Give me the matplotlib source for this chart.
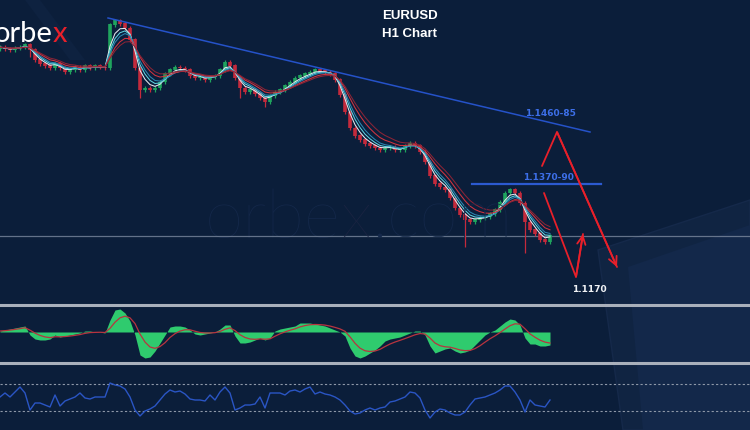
import numpy as np
import pandas as pd
import matplotlib
matplotlib.use("Agg")
import matplotlib.pyplot as plt
from matplotlib.patches import Polygon
from matplotlib.lines import Line2D

# ---------------- data ----------------
close = [1.1671, 1.1667, 1.1665, 1.1669, 1.1671, 1.1676, 1.1665, 1.1643, 1.1634, 1.1630,
         1.1625, 1.1634, 1.1625, 1.1616, 1.1621, 1.1627, 1.1621, 1.1630, 1.1625, 1.1630,
         1.1627, 1.1625, 1.1720, 1.1729, 1.1722, 1.1713, 1.1687, 1.1625, 1.1577, 1.1581,
         1.1577, 1.1581, 1.1594, 1.1612, 1.1621, 1.1627, 1.1625, 1.1621, 1.1608, 1.1603,
         1.1605, 1.1599, 1.1605, 1.1608, 1.1621, 1.1638, 1.1630, 1.1603, 1.1581, 1.1572,
         1.1577, 1.1568, 1.1559, 1.1550, 1.1564, 1.1572, 1.1577, 1.1586, 1.1594, 1.1603,
         1.1608, 1.1612, 1.1616, 1.1621, 1.1619, 1.1616, 1.1612, 1.1599, 1.1566, 1.1528,
         1.1493, 1.1476, 1.1467, 1.1458, 1.1454, 1.1449, 1.1445, 1.1449, 1.1451, 1.1445,
         1.1445, 1.1454, 1.1460, 1.1454, 1.1440, 1.1418, 1.1388, 1.1370, 1.1363, 1.1357,
         1.1339, 1.1317, 1.1302, 1.1291, 1.1286, 1.1291, 1.1295, 1.1297, 1.1304, 1.1313,
         1.1330, 1.1350, 1.1357, 1.1350, 1.1328, 1.1286, 1.1269, 1.1260, 1.1247, 1.1242,
         1.1256]
first_open = 1.1668
typical_wick = 0.0005
spike_bars = [6, 28, 48, 53, 93, 105]
spike_lows = [1.1650, 1.1560, 1.1560, 1.1540, 1.1231, 1.1218]

macd_hist = [0.5, 1, 1.5, 2, 2.5, 3, -1.5, -3.5, -4, -4,
             -3.5, -1.5, -2.5, -2, -1.5, -1, -0.5, 0.5, 0.5, 0,
             0, -0.5, 6, 11, 11.5, 9.5, 5.5, -1.5, -11.5, -13,
             -12.5, -9.5, -5.5, -1.5, 2.5, 3, 3, 2.5, 1, -1,
             -1.5, -1, -0.5, 0, 1.5, 3.5, 3.5, -2, -5.5, -5.5,
             -5, -4, -3, -4, -3, 0.5, 1.5, 2, 2.5, 3,
             4.5, 4.5, 4.5, 4, 3.5, 3, 2, 1, 0, -2,
             -8, -12, -13, -12, -10.5, -9, -7, -4.5, -3.5, -3,
             -2.5, -1.5, -0.5, 0.5, 0.5, -1.5, -7, -10.5, -9.5, -8.5,
             -8, -9.5, -10.5, -10, -9, -6.5, -4, -1.5, 0, 1,
             3, 5, 6.5, 6, 3.5, -3, -6, -6, -7, -7,
             -6.5]

rsi = [51, 57, 51, 58.5, 66, 57, 31.5, 42, 42, 39,
       36, 54, 37.5, 45, 48, 51, 57, 49.5, 48, 51,
       51, 51, 72, 69, 67.5, 63, 51, 31.5, 22.5, 30,
       33, 37.5, 46.5, 55.5, 61.5, 58.5, 60, 55.5, 48, 46.5,
       46.5, 45, 54, 46.5, 58.5, 66, 57, 31.5, 34.5, 39,
       39, 40.5, 51, 34.5, 57, 57, 57, 54, 60, 61.5,
       58.5, 63, 66, 55.5, 58.5, 55.5, 54, 51, 46.5, 39,
       30, 25.5, 27, 31.5, 34.5, 31.5, 34.5, 36, 43.5, 45,
       48, 51, 58.5, 57, 49.5, 31.5, 19.5, 28.5, 33, 31.5,
       27, 24, 24, 28.5, 39, 48, 49.5, 51, 54, 57,
       61.5, 67.5, 67.5, 58.5, 46.5, 28.5, 46.5, 39, 37.5, 36,
       46.5]
rsi_levels = [70, 30]

ma_spans = [3, 4, 5, 7, 9]
ma_colors = ["#e6e9ee", "#5fd3e0", "#2b86b0", "#d2343f", "#8a2436"]

trend_x = [21.6, 118.0]
trend_y = [1.17352, 1.14844]
level_x = [94.4, 120.2]
level_y = 1.1370
current_price = 1.1256
arrow1_x = [108.4, 111.4, 123.4]
arrow1_y = [1.14096, 1.14844, 1.11874]
arrow2_x = [108.8, 115.2, 116.6]
arrow2_y = [1.13502, 1.11654, 1.1260]
labels = [("1.1460-85", 110.0, 1.1524, "#3d6fe8"),
          ("1.1370-90", 109.6, 1.13832, "#3d6fe8"),
          ("1.1170", 117.8, 1.1139, "#f0f2f5")]

# ---------------- figure ----------------
BG = "#0b1e3a"
W, H = 750, 430
fig = plt.figure(figsize=(7.5, 4.3), dpi=100, facecolor=BG)


def fx(px):
    return px / W


def fy(py):
    return 1 - py / H


# background decorations (subtle lighter shapes)
deco_ax = fig.add_axes([0, 0, 1, 1], facecolor=BG)
deco_ax.set_xlim(0, W)
deco_ax.set_ylim(H, 0)
deco_ax.axis("off")
deco_ax.add_patch(Polygon([(598, 250), (750, 200), (750, 430), (623, 430)],
                          closed=True, facecolor="#102442", edgecolor="#15294a", lw=1))
deco_ax.add_patch(Polygon([(628, 267), (750, 225), (750, 430), (643, 430)],
                          closed=True, facecolor="#13284a", edgecolor="none"))
deco_ax.add_patch(Polygon([(25, 0), (40, 0), (85, 60), (70, 60)],
                          closed=True, facecolor="#0e2240", edgecolor="none"))

# watermark
wm = deco_ax.text(205, 238, "orbe", fontsize=50, color="#14284a", family="Lato",
                  fontweight="light", va="baseline", ha="left")
fig.canvas.draw()
bb = wm.get_window_extent()
wm2 = fig.text(bb.x1 / W, fy(238), "x", fontsize=50, color="#1b2442", family="Lato",
               fontweight="light", va="baseline", ha="left")
fig.canvas.draw()
bb2 = wm2.get_window_extent()
fig.text(bb2.x1 / W, fy(238), ".com", fontsize=50, color="#14284a", family="Lato",
         fontweight="light", va="baseline", ha="left")

# ---------------- main price panel ----------------
top_px, bot_px = 0, 303
ref_px, ref_price, per_px = 184, 1.1370, 0.00022
ymax = ref_price + (ref_px - top_px) * per_px
ymin = ref_price - (bot_px - ref_px) * per_px
ax = fig.add_axes([0, fy(bot_px), 1, (bot_px - top_px) / H])
ax.patch.set_alpha(0)
ax.set_xlim(0, W / 5)
ax.set_ylim(ymin, ymax)
ax.axis("off")

c = pd.Series(close)
idx = np.arange(len(close))
opens = np.r_[first_open, c.values[:-1]]
body_lo = np.minimum(opens, c.values)
body_hi = np.maximum(opens, c.values)
highs = body_hi + typical_wick
lows = body_lo - typical_wick
for b, lo in zip(spike_bars, spike_lows):
    lows[b] = min(lows[b], lo)
up = c.values >= opens
cols = np.where(up, "#1fa45e", "#c42a3c")
ax.vlines(idx, lows, highs, colors=cols, lw=0.9, zorder=2)
ax.vlines(idx, body_lo, body_hi + 0.00012, colors=cols, lw=2.6, zorder=2)
for span, col in zip(ma_spans, ma_colors):
    ax.plot(idx, c.ewm(span=span, adjust=False).mean(), color=col, lw=0.75, zorder=3)

ax.axhline(current_price, color="#8a97ab", lw=0.9, alpha=0.7, zorder=1)
ax.plot(trend_x, trend_y, color="#2552c9", lw=1.1, zorder=4)
ax.plot(level_x, [level_y, level_y], color="#2c5ad0", lw=1.6, zorder=4)


def red_arrow(xs, ys):
    ax.plot(xs, ys, color="#e8202a", lw=1.3, zorder=5,
            solid_capstyle="round", solid_joinstyle="miter")
    ax.annotate("", xy=(xs[-1], ys[-1]), xytext=(xs[-2], ys[-2]),
                arrowprops=dict(arrowstyle="->,head_length=0.6,head_width=0.3",
                                color="#e8202a", lw=1.3, shrinkA=0, shrinkB=0),
                zorder=5)


red_arrow(arrow1_x, arrow1_y)
red_arrow(arrow2_x, arrow2_y)

for txt, lx, ly, col in labels:
    ax.text(lx, ly, txt, color=col, fontsize=6.5, fontweight="bold",
            ha="center", va="center", family="DejaVu Sans")

fig.text(fx(410), fy(16), "EURUSD", color="white", fontsize=9.5, fontweight="bold",
         ha="center", va="center", family="Liberation Sans")
fig.text(fx(410), fy(34), "H1 Chart", color="white", fontsize=9.5, fontweight="bold",
         ha="center", va="center", family="Liberation Sans")

# logo
lg = fig.text(fx(-6), fy(42), "orbe", color="white", fontsize=21, family="Lato",
              va="baseline", ha="left")
fig.canvas.draw()
lb = lg.get_window_extent()
fig.text(lb.x1 / W, fy(42), "x", color="#e8202a", fontsize=21, family="Lato",
         va="baseline", ha="left")

# ---------------- separators ----------------
for ypx in (305, 363):
    fig.add_artist(Line2D([0, 1], [fy(ypx), fy(ypx)], color="#a9b0bb", lw=2.2))

# ---------------- MACD panel ----------------
m_top, m_bot = 307, 361
zero_px = 332
mx = fig.add_axes([0, fy(m_bot), 1, (m_bot - m_top) / H])
mx.patch.set_alpha(0)
mx.set_xlim(0, W / 5)
mx.set_ylim(-(m_bot - zero_px) / 2, (zero_px - m_top) / 2)
mx.axis("off")
h = pd.Series(macd_hist)
mx.fill_between(idx, 0, h, color="#2fcb6e", lw=0)
mx.plot(idx, h.ewm(span=5, adjust=False).mean(), color="#b8343f", lw=0.9)

# ---------------- RSI panel ----------------
r_top, r_bot = 365, 430
rx = fig.add_axes([0, 0, 1, (r_bot - r_top) / H])
rx.patch.set_alpha(0)
rx.set_xlim(0, W / 5)
rx.set_ylim(30 + (411 - r_bot) * 1.5, 30 + (411 - r_top) * 1.5)
rx.axis("off")
for lvl in rsi_levels:
    rx.axhline(lvl, color="#8e98a8", lw=0.8, ls=(0, (2, 2)))
rx.plot(idx, rsi, color="#2a55c4", lw=1.0)

fig.savefig("out.png", dpi=100, facecolor=BG)
